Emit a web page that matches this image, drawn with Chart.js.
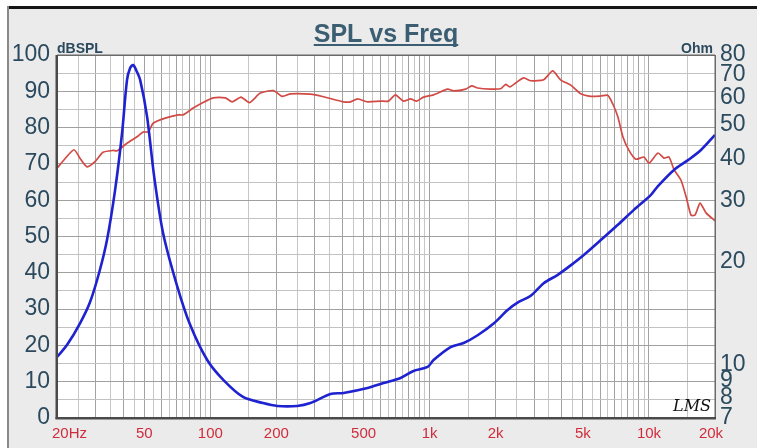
<!DOCTYPE html>
<html>
<head>
<meta charset="utf-8">
<title>SPL vs Freq</title>
<script src="https://cdn.jsdelivr.net/npm/chart.js@4.4.1/dist/chart.umd.min.js"></script>
<style>
  html, body { margin: 0; padding: 0; background: #fff; }
  #wrap { position: relative; width: 757px; height: 448px; }
  canvas { display: block; }
</style>
</head>
<body>
<div id="wrap"><canvas id="splChart" width="757" height="448"></canvas></div>
<script>
// SPL (red, left axis dBSPL) and impedance (blue, right axis Ohm) vs frequency
const splFreq = [20, 21.8, 23.9, 25.5, 27.4, 29.8, 32.4, 36, 37.6, 41.7,
    46.9, 49.4, 52.1, 54.9, 62.3, 71.4, 75.2, 83.6, 91.8, 103,
    117, 126, 138, 151, 169, 194, 213, 232, 286, 328,
    405, 436, 469, 521, 597, 649, 698, 760, 818, 872,
    938, 1042, 1208, 1286, 1460, 1554, 1655, 1898, 2108, 2222,
    2318, 2468, 2685, 2890, 3311, 3640, 3963, 4398, 4886, 5432,
    6030, 6488, 6840, 7212, 7603, 8095, 8709, 9484, 10000, 10990,
    11700, 12340, 13000, 14000, 14760, 15540, 16220, 17100, 18200, 20000];
const splValues = [68.8, 71.5, 73.9, 71.5, 69.2, 70.6, 73.2, 73.7, 73.6, 75.7,
    77.7, 78.8, 78.8, 81.2, 82.6, 83.5, 83.5, 85.4, 86.8, 88.2,
    88.2, 87.1, 88.4, 86.9, 89.5, 90.2, 88.6, 89.3, 89.2, 88.5,
    87.1, 87.1, 87.9, 87.1, 87.3, 87.3, 89.0, 87.3, 87.9, 87.3,
    88.4, 89.0, 90.6, 90.1, 90.6, 91.5, 90.9, 90.6, 90.7, 91.9,
    91.2, 92.3, 93.7, 92.9, 93.2, 95.6, 93.1, 91.7, 89.3, 88.6,
    88.7, 88.9, 86.5, 83.0, 77.5, 73.8, 71.3, 71.9, 70.2, 73.0,
    71.6, 71.9, 68.5, 65.5, 61.0, 55.9, 55.9, 59.2, 56.5, 54.3];

const impFreq = [20, 22.2, 25.5, 28.3, 31.1, 33.8, 36.8, 39.6, 41.7, 43.1,
    44.5, 45.9, 47.9, 51.5, 55.5, 61, 70.6, 81, 96.8, 114.6,
    141, 174, 202, 249, 286, 353, 405, 521, 616, 737,
    844, 979, 1042, 1246, 1429, 1655, 1958, 2268, 2547, 2890,
    3311, 3838, 4398, 5044, 6030, 7212, 8531, 10210, 10990, 13000,
    15060, 17260, 20000];
const impValues = [10.54, 11.42, 13.24, 15.25, 18.52, 23.12, 32.3, 47.4, 67.6, 73.3,
    74.8, 72.3, 67.6, 52.8, 35.3, 24.1, 16.97, 13.06, 10.33, 9.04,
    8.06, 7.74, 7.59, 7.59, 7.74, 8.22, 8.28, 8.56, 8.85, 9.16,
    9.6, 9.86, 10.33, 11.27, 11.58, 12.2, 13.2, 14.45, 15.25, 15.9,
    17.3, 18.3, 19.5, 20.9, 23.1, 25.6, 28.3, 31.3, 33.2, 37.0,
    39.5, 42.3, 46.8];

const freqTickValues = [20, 50, 100, 200, 500, 1000, 2000, 5000, 10000, 20000];
const freqTickLabels = ['20Hz', '50', '100', '200', '500', '1k', '2k', '5k', '10k', '20k'];
const ohmTickValues = [7, 8, 9, 10, 20, 30, 40, 50, 60, 70, 80];
const gridSteps = [1, 1.5, 2, 2.5, 3, 3.5, 4, 4.5, 5, 5.5, 6, 6.5, 7, 7.5, 8, 8.5, 9, 9.5];

const FONT = '"Liberation Sans", Arial, Helvetica, sans-serif';
const AXIS_TEXT = '#2b4a5e';
const FREQ_TEXT = '#d02c3c';

// vertical grid at every half step of each decade
const freqGrid = [];
[10, 100, 1000, 10000].forEach(function(dec) {
    gridSteps.forEach(function(m) {
        const v = m * dec;
        if (v >= 20 && v <= 20000) freqGrid.push(v);
    });
});

function isHalfStep(v) {
    const mant = v / Math.pow(10, Math.floor(Math.log10(v) + 1e-9));
    return Math.abs(mant - Math.round(mant)) > 0.1;
}

const framePlugin = {
    id: 'frame',
    beforeDraw(chart) {
        const c = chart.ctx;
        const a = chart.chartArea;
        c.save();
        c.fillStyle = '#ffffff';
        c.fillRect(0, 0, chart.width, chart.height);
        c.fillStyle = '#ebebeb';
        c.fillRect(8, 8, chart.width - 8, chart.height - 8);
        c.fillStyle = '#151515';
        c.fillRect(8, 6, chart.width - 8, 3);
        c.fillStyle = '#8a8a8a';
        c.fillRect(7, 6, 2, chart.height - 6);
        c.fillStyle = '#ffffff';
        c.fillRect(a.left, a.top, a.right - a.left, a.bottom - a.top);
        c.restore();
    },
    afterDraw(chart) {
        const c = chart.ctx;
        const a = chart.chartArea;
        const xs = chart.scales.x;
        c.save();

        // plot borders
        c.fillStyle = '#6a6a6a';
        c.fillRect(a.left, a.top - 0.5, a.right - a.left, 1.5);
        c.fillRect(a.right - 0.5, a.top, 1.5, a.bottom - a.top);
        c.fillStyle = '#4a4a4a';
        c.fillRect(a.left - 1.5, a.top, 2.5, a.bottom - a.top + 1);
        c.fillRect(a.left - 1.5, a.bottom - 1, a.right - a.left + 2.5, 2.5);

        // frequency labels
        c.font = '15px ' + FONT;
        c.fillStyle = FREQ_TEXT;
        c.textBaseline = 'alphabetic';
        freqTickValues.forEach(function(v, i) {
            const px = xs.getPixelForValue(v);
            if (i === 0) {
                c.textAlign = 'left';
                c.fillText(freqTickLabels[i], px - 5, 438);
            } else if (i === freqTickValues.length - 1) {
                c.textAlign = 'center';
                c.fillText(freqTickLabels[i], px - 4, 438);
            } else {
                c.textAlign = 'center';
                c.fillText(freqTickLabels[i], px, 438);
            }
        });

        // title
        c.font = 'bold 25px ' + FONT;
        c.fillStyle = '#3b5e72';
        c.textAlign = 'center';
        c.fillText('SPL vs Freq', 386, 42);
        const w = c.measureText('SPL vs Freq').width;
        c.fillRect(386 - w / 2, 44, w, 2);

        // unit captions
        c.font = 'bold 14px ' + FONT;
        c.fillStyle = AXIS_TEXT;
        c.textAlign = 'left';
        c.fillText('dBSPL', a.left, 53);
        c.textAlign = 'right';
        c.fillText('Ohm', a.right - 2, 53);

        // LMS mark
        c.font = 'italic 16px "DejaVu Serif", serif';
        c.fillStyle = '#111';
        c.textAlign = 'left';
        c.fillText('LMS', a.right - 42, a.bottom - 7);
        c.restore();
    }
};

const ctx = document.getElementById('splChart');
new Chart(ctx, {
    type: 'line',
    data: {
        datasets: [{
            label: 'Impedance',
            data: impFreq.map((f, i) => ({ x: f, y: impValues[i] })),
            yAxisID: 'y1',
            borderColor: '#1e22cf',
            borderWidth: 2.6,
            pointRadius: 0,
            tension: 0.3,
            fill: false
        }, {
            label: 'SPL',
            data: splFreq.map((f, i) => ({ x: f, y: splValues[i] })),
            yAxisID: 'y',
            borderColor: '#d24a45',
            borderWidth: 1.7,
            pointRadius: 0,
            tension: 0.2,
            fill: false
        }]
    },
    options: {
        responsive: false,
        animation: false,
        devicePixelRatio: 1,
        layout: { padding: { top: 55, left: 0, right: 0, bottom: 0 } },
        plugins: {
            legend: { display: false },
            tooltip: { enabled: false }
        },
        scales: {
            x: {
                type: 'logarithmic',
                min: 20,
                max: 20000,
                afterBuildTicks: function(scale) {
                    scale.ticks = freqGrid.map(v => ({ value: v }));
                },
                afterFit: function(scale) { scale.height = 30; },
                ticks: { display: false, autoSkip: false },
                grid: {
                    drawTicks: false,
                    lineWidth: 1,
                    color: function(c) {
                        if (!c.tick) return '#b4b4b4';
                        return isHalfStep(c.tick.value) ? '#c6c6c6' : '#a2a2a2';
                    }
                },
                border: { display: false }
            },
            y: {
                type: 'linear',
                position: 'left',
                min: 0,
                max: 100,
                afterFit: function(scale) { scale.width = 57; },
                ticks: {
                    stepSize: 5,
                    autoSkip: false,
                    padding: 7,
                    color: AXIS_TEXT,
                    font: { family: FONT, size: 23 },
                    callback: function(v) { return v % 10 === 0 ? String(v) : ''; }
                },
                grid: {
                    drawTicks: false,
                    lineWidth: 1,
                    color: function(c) {
                        if (!c.tick) return '#b4b4b4';
                        return c.tick.value % 10 === 0 ? '#a0a0a0' : '#c2c2c2';
                    }
                },
                border: { display: false }
            },
            y1: {
                type: 'logarithmic',
                position: 'right',
                min: 7,
                max: 80,
                afterBuildTicks: function(scale) {
                    scale.ticks = ohmTickValues.map(v => ({ value: v }));
                },
                afterFit: function(scale) { scale.width = 42; },
                ticks: {
                    autoSkip: false,
                    padding: 5,
                    color: AXIS_TEXT,
                    font: { family: FONT, size: 23 },
                    callback: function(v) { return String(v); }
                },
                grid: { display: false, drawTicks: false },
                border: { display: false }
            }
        }
    },
    plugins: [framePlugin]
});
</script>
</body>
</html>
